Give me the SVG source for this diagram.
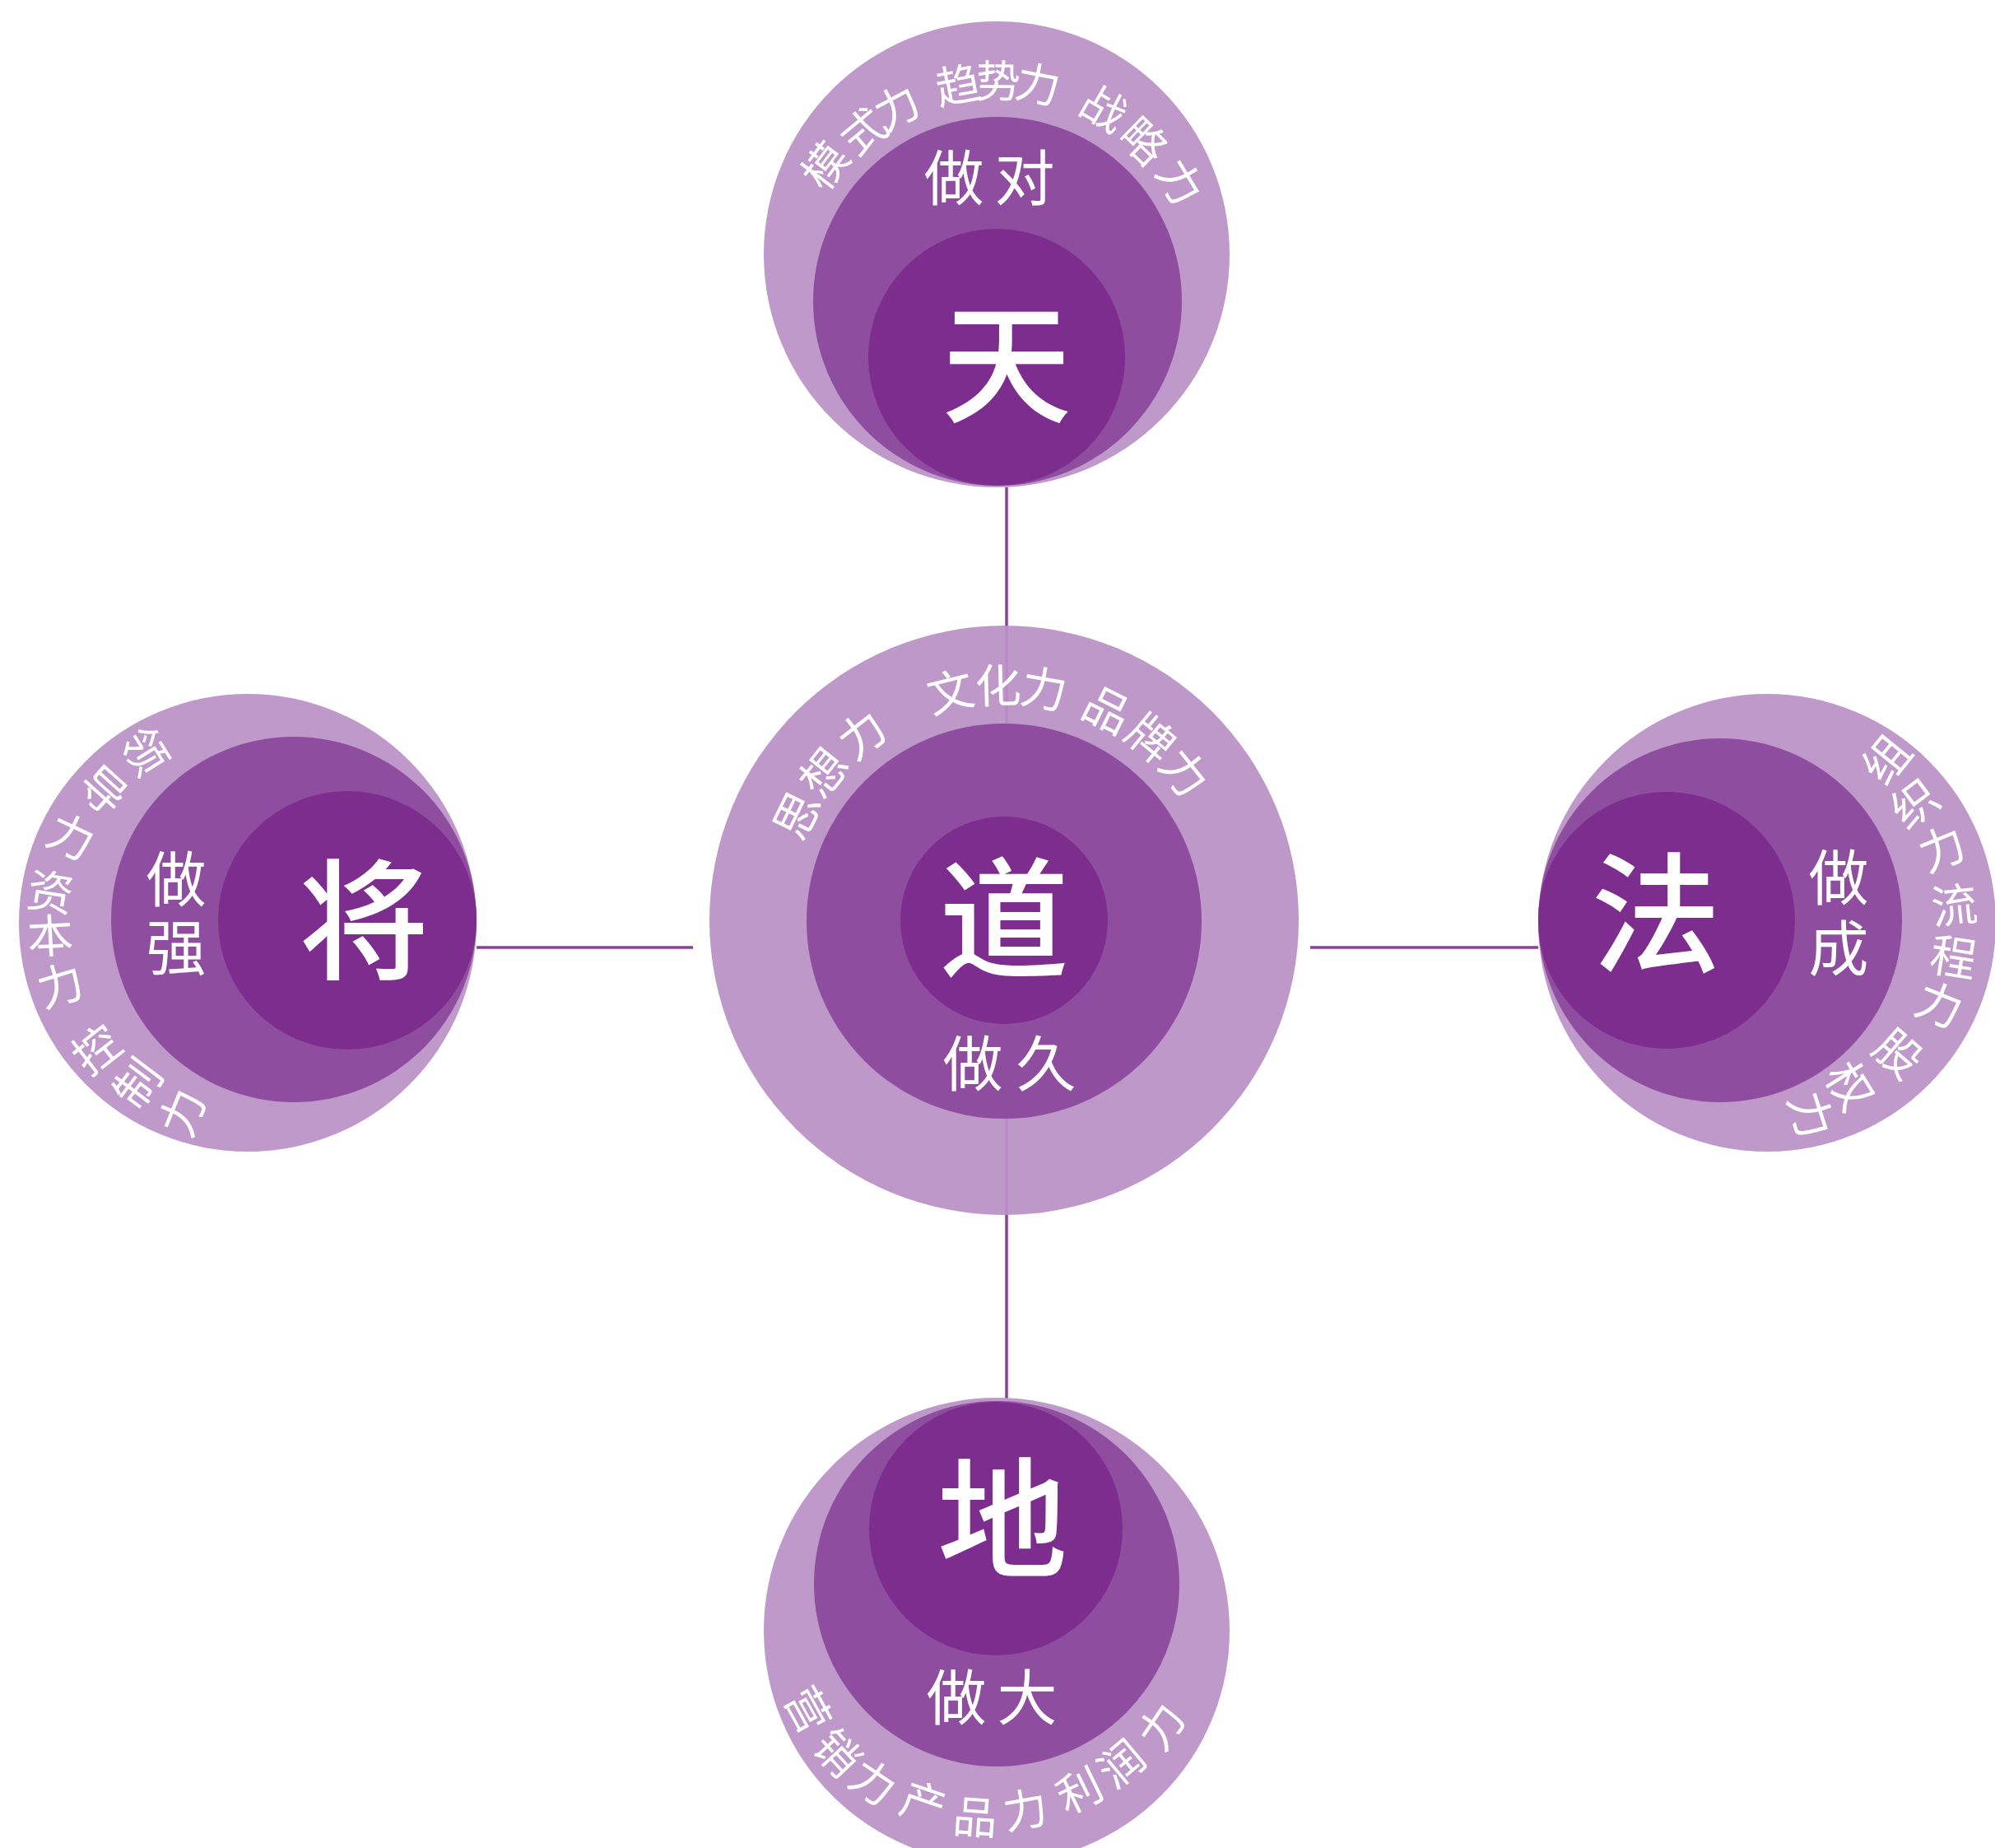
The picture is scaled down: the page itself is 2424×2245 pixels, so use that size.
<svg xmlns="http://www.w3.org/2000/svg" width="2424" height="2245" viewBox="0 0 2424 2245">
<style>
.o{fill:#be99c9}
.oc{fill:#ba92c6;fill-opacity:0.94}
.m{fill:#8f4d9f}
.i{fill:#7c2d8d}
.ln{stroke:#8b3f9b;stroke-width:3.5;fill:none}
text{fill:#ffffff;font-family:"Noto Sans CJK SC","Noto Sans CJK JP",sans-serif;text-anchor:middle;dominant-baseline:central}
.big{font-size:158px;font-weight:500}
.mid{font-size:73px}
.arc{font-size:54px}
.arc2{font-size:56px}
</style>
<rect width="2424" height="2245" fill="#ffffff"/>
<g id="connectors">
<line class="ln" x1="1223" y1="592" x2="1223" y2="1700"/>
<line class="ln" x1="579" y1="1151" x2="842" y2="1151"/>
<line class="ln" x1="1592" y1="1151" x2="1869" y2="1151"/>
</g>
<g id="node-tian">
<circle class="o" cx="1211" cy="309" r="283"/>
<circle class="m" cx="1212" cy="366" r="224"/>
<circle class="i" cx="1211" cy="434" r="156"/>
<text class="big" x="1223" y="432">天</text>
<text class="mid" x="1159" y="211">做</text>
<text class="mid" x="1245" y="211">对</text>
<text class="arc" transform="translate(1000,199) rotate(-53)">模</text>
<text class="arc" transform="translate(1047,157) rotate(-39.5)">式</text>
<text class="arc" transform="translate(1088,127) rotate(-28)">力</text>
<text class="arc" transform="translate(1163,100) rotate(-10.6)">趋</text>
<text class="arc" transform="translate(1213,95) rotate(0.4)">势</text>
<text class="arc" transform="translate(1262,99) rotate(11.2)">力</text>
<text class="arc" transform="translate(1343,129) rotate(30)">战</text>
<text class="arc" transform="translate(1392,169) rotate(44)">略</text>
<text class="arc" transform="translate(1437,219) rotate(58.6)">力</text>
</g>
<g id="node-dao">
<circle class="oc" cx="1220" cy="1118" r="358"/>
<circle class="m" cx="1220" cy="1119" r="240"/>
<circle class="i" cx="1220" cy="1118" r="126"/>
<text class="big" x="1220" y="1106">道</text>
<text class="mid" x="1182" y="1287">做</text>
<text class="mid" x="1271" y="1287">久</text>
<text class="arc2" transform="translate(964.7,988.5) rotate(-64)">思</text>
<text class="arc2" transform="translate(997.7,936.2) rotate(-51.5)">想</text>
<text class="arc2" transform="translate(1045.1,889.2) rotate(-38)">力</text>
<text class="arc2" transform="translate(1153.7,836.8) rotate(-13.5)">文</text>
<text class="arc2" transform="translate(1212.6,829.1) rotate(-1.5)">化</text>
<text class="arc2" transform="translate(1269.3,833.3) rotate(10)">力</text>
<text class="arc2" transform="translate(1346.7,858.8) rotate(26.5)">品</text>
<text class="arc2" transform="translate(1400.7,893.9) rotate(39.5)">牌</text>
<text class="arc2" transform="translate(1442.3,936.2) rotate(51.5)">力</text>
</g>
<g id="node-jiang">
<circle class="o" cx="301" cy="1121" r="278"/>
<circle class="m" cx="357" cy="1117" r="222"/>
<circle class="i" cx="422" cy="1118" r="157"/>
<text class="big" x="442" y="1108">将</text>
<text class="mid"><tspan x="214" y="1063">做</tspan><tspan x="214" y="1146">强</tspan></text>
<text class="arc2" transform="translate(179,910) rotate(58)">领</text>
<text class="arc2" transform="translate(128,957) rotate(42)">导</text>
<text class="arc2" transform="translate(88,1013) rotate(25)">力</text>
<text class="arc2" transform="translate(62,1080) rotate(9)">资</text>
<text class="arc2" transform="translate(61,1133) rotate(-3)">本</text>
<text class="arc2" transform="translate(72,1193) rotate(-17)">力</text>
<text class="arc2" transform="translate(115,1272) rotate(-38)">控</text>
<text class="arc2" transform="translate(164,1314) rotate(-53)">制</text>
<text class="arc2" transform="translate(218,1350) rotate(-68)">力</text>
</g>
<g id="node-fa">
<circle class="o" cx="2147" cy="1121" r="278"/>
<circle class="m" cx="2090" cy="1118" r="221"/>
<circle class="i" cx="2025" cy="1118" r="156"/>
<text class="big" x="2012" y="1100">法</text>
<text class="mid"><tspan x="2234" y="1061">做</tspan><tspan x="2234" y="1147">成</tspan></text>
<text class="arc2" transform="translate(2289,920) rotate(-51)">组</text>
<text class="arc2" transform="translate(2324,973) rotate(-37)">织</text>
<text class="arc2" transform="translate(2358,1027) rotate(-22)">力</text>
<text class="arc2" transform="translate(2374,1096) rotate(-6)">流</text>
<text class="arc2" transform="translate(2374,1159) rotate(9)">程</text>
<text class="arc2" transform="translate(2358,1217) rotate(22)">力</text>
<text class="arc2" transform="translate(2309,1277) rotate(41)">股</text>
<text class="arc2" transform="translate(2251,1317) rotate(58)">权</text>
<text class="arc2" transform="translate(2204,1353) rotate(72)">力</text>
</g>
<g id="node-di">
<circle class="o" cx="1211" cy="1981" r="283"/>
<circle class="m" cx="1211" cy="1924" r="222"/>
<circle class="i" cx="1210" cy="1857" r="154"/>
<text class="big" x="1218" y="1835">地</text>
<text class="mid" x="1162" y="2057">做</text>
<text class="mid" x="1248" y="2057">大</text>
<text class="arc" transform="translate(985,2075) rotate(61)">营</text>
<text class="arc" transform="translate(1020,2127) rotate(47)">销</text>
<text class="arc" transform="translate(1063,2162) rotate(34)">力</text>
<text class="arc" transform="translate(1123,2187) rotate(19)">产</text>
<text class="arc" transform="translate(1185,2204) rotate(4)">品</text>
<text class="arc" transform="translate(1245,2195) rotate(-10)">力</text>
<text class="arc" transform="translate(1310,2172) rotate(-26)">利</text>
<text class="arc" transform="translate(1360,2140) rotate(-40)">润</text>
<text class="arc" transform="translate(1408,2095) rotate(-56)">力</text>
</g>
</svg>
